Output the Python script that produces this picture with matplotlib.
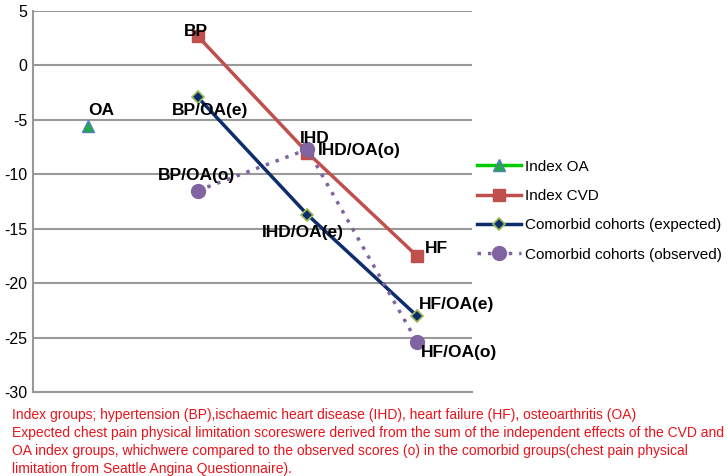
import matplotlib
matplotlib.use('Agg')
from matplotlib import pyplot as plt

categories = ['OA', 'BP', 'IHD', 'HF']
index_oa = [-5.6, None, None, None]
index_cvd = [None, 2.7, -8.0, -17.5]
expected = [None, -2.9, -13.7, -23.0]
observed = [None, -11.5, -7.7, -25.4]

oa_labels = ['OA']
cvd_labels = ['BP', 'IHD', 'HF']
exp_labels = ['BP/OA(e)', 'IHD/OA(e)', 'HF/OA(e)']
obs_labels = ['BP/OA(o)', 'IHD/OA(o)', 'HF/OA(o)']

caption = ('Index groups; hypertension (BP),ischaemic heart disease (IHD), heart failure (HF), osteoarthritis (OA)\n'
           'Expected chest pain physical limitation scoreswere derived from the sum of the independent effects of the CVD and\n'
           'OA index groups, whichwere compared to the observed scores (o) in the comorbid groups(chest pain physical\n'
           'limitation from Seattle Angina Questionnaire).')

plt.rcParams['font.family'] = ['Liberation Sans', 'DejaVu Sans']
plt.rcParams['axes.unicode_minus'] = False

fig = plt.figure(figsize=(7.28, 4.76), dpi=100)
ax = fig.add_axes([0.0453, 0.176, 0.6030, 0.801])

x = list(range(1, len(categories) + 1))


def pts(vals):
    xs = [xi for xi, v in zip(x, vals) if v is not None]
    ys = [v for v in vals if v is not None]
    return xs, ys


xs, ys = pts(index_oa)
ax.plot(xs, ys, color='#00CC00', lw=2.5, marker='^', ms=9, mfc='#22AA44',
        mec='#4F81BD', mew=1, label='Index OA', zorder=3)
xs, ys = pts(index_cvd)
ax.plot(xs, ys, color='#C0504D', lw=2.5, marker='s', ms=9, mfc='#C0504D',
        mec='#C0504D', label='Index CVD', zorder=3)
xs_e, ys_e = pts(expected)
ax.plot(xs_e, ys_e, color='#0D2D6C', lw=2.5, marker='D', ms=6, mfc='#0D2D6C',
        mec='#9BBB59', mew=1.2, label='Comorbid cohorts (expected)', zorder=4)
xs_o, ys_o = pts(observed)
ax.plot(xs_o, ys_o, color='#8064A2', lw=2.5, ls=(0, (1, 2)), marker='o', ms=10,
        mfc='#8064A2', mec='#8064A2', label='Comorbid cohorts (observed)', zorder=5)

# label offsets in pixels from the point to the text's left edge / centre line
lab_kw = dict(textcoords='offset pixels', fontsize=12.5, fontweight='bold',
              ha='left', va='center', zorder=6)
ax.annotate(oa_labels[0], (1, index_oa[0]), xytext=(0, 16), **lab_kw)
cvd_off = [(-14, 5), (-7, 14), (8, 8)]
for lab, xi, v, off in zip(cvd_labels, x[1:], index_cvd[1:], cvd_off):
    ax.annotate(lab, (xi, v), xytext=off, **lab_kw)
exp_off = [(-26, -13), (-45, -18), (2, 11)]
for lab, xi, v, off in zip(exp_labels, x[1:], expected[1:], exp_off):
    ax.annotate(lab, (xi, v), xytext=off, **lab_kw)
obs_off = [(-40, 15), (11, -1), (4, -10)]
for lab, xi, v, off in zip(obs_labels, x[1:], observed[1:], obs_off):
    ax.annotate(lab, (xi, v), xytext=off, **lab_kw)

ax.set_xlim(0.5, 4.5)
ax.set_ylim(-30, 5)
ax.set_yticks(range(-30, 6, 5))
ax.set_xticks([])
ax.tick_params(axis='y', length=0, labelsize=11.5, pad=4)
ax.yaxis.grid(True, color='#999999', lw=1.5)
ax.set_axisbelow(True)
for s in ['top', 'right']:
    ax.spines[s].set_visible(False)
for s in ['left', 'bottom']:
    ax.spines[s].set_color('#999999')
    ax.spines[s].set_linewidth(1.5)

ax.legend(loc='center left', bbox_to_anchor=(1.0, 0.476), frameon=False,
          fontsize=11, handlelength=2.9, labelspacing=1.0, handletextpad=0.25,
          borderaxespad=0.1, borderpad=0.2)

fig.text(0.016, 0.143, caption, color='#E8141B', fontsize=10,
         va='top', ha='left', linespacing=1.37)

fig.savefig('out.png', dpi=100)
